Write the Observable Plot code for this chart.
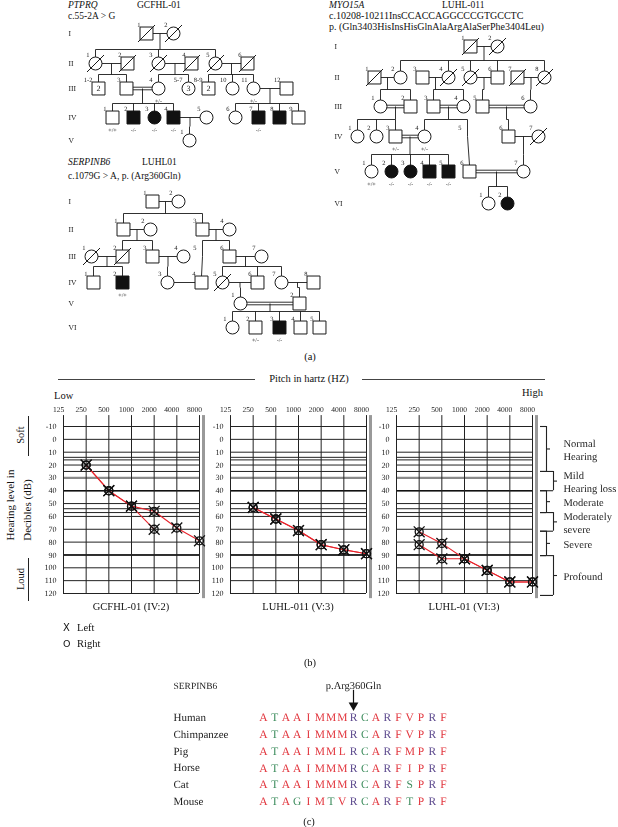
<!DOCTYPE html>
<html><head><meta charset="utf-8">
<script src="https://cdn.jsdelivr.net/npm/d3@7"></script>
<script src="https://cdn.jsdelivr.net/npm/@observablehq/plot@0.6"></script>
<style>
body{margin:0;background:#fff;}
#fig{position:relative;width:618px;height:827px;overflow:hidden;background:#fff;font-family:"Liberation Serif","DejaVu Serif",serif;color:#111;-webkit-font-smoothing:antialiased;}
#fig svg{will-change:transform;text-rendering:geometricPrecision;-webkit-font-smoothing:antialiased;}
</style></head><body><div id="fig"></div>
<script>
// ---------------- DATA ----------------
// Pedigree GCFHL-01 (PTPRQ): [id, generation, layout x, sex, affected, deceased, count, genotype]
const ped1Rows = {I:33, II:63, III:88, IV:117, V:140};
const ped1People = [
  ["I-1","I",146,"m",0,1],["I-2","I",173,"f",0,1],
  ["II-1","II",95,"f",0,1],["II-2","II",127,"m",0,1],["II-3","II",158,"f",0,1],
  ["II-4","II",191,"m",0,1],["II-5","II",215,"f",0,1],["II-6","II",247,"m",0,1],
  ["III-1-2","III",98,"m",0,0,"2"],["III-3","III",126,"m"],["III-4","III",158,"f",0,0,"","+/-"],
  ["III-5-7","III",188,"f",0,0,"3"],["III-8-9","III",208,"m",0,0,"2"],["III-10","III",232,"f"],
  ["III-11","III",253,"f",0,0,"","+/-"],["III-12","III",286,"m"],
  ["IV-1","IV",112,"m",0,0,"","+/+"],["IV-2","IV",133,"m",1,0,"","-/-"],["IV-3","IV",154,"f",1,0,"","-/-"],
  ["IV-4","IV",173,"m",1,0,"","-/-"],["IV-5","IV",206,"f"],["IV-6","IV",235,"f"],
  ["IV-7","IV",258,"m",1,0,"","-/-"],["IV-8","IV",279,"m",1],["IV-9","IV",298,"m"],
  ["V-1","V",189,"f"]
];
const ped1Couples = [["I-1","I-2"],["II-1","II-2"],["II-3","II-4"],["II-5","II-6"],["III-3","III-4",1],["III-11","III-12"],["IV-4","IV-5"]];
const ped1Sibs = [
  [["I-1","I-2"],["II-1","II-3","II-5"]],[["II-1","II-2"],["III-1-2","III-3"]],[["II-3","II-4"],["III-4","III-5-7"]],
  [["II-5","II-6"],["III-8-9","III-10","III-11"]],[["III-3","III-4"],["IV-1","IV-2","IV-3","IV-4"]],
  [["III-11","III-12"],["IV-6","IV-7","IV-8","IV-9"]],[["IV-4","IV-5"],["V-1"]]
];

// Pedigree LUHL-011 (MYO15A)
const ped2Rows = {I:46, II:77, III:106, IV:136, V:171, VI:203};
const ped2People = [
  ["I-1","I",470,"m",0,1],["I-2","I",497,"f",0,1],
  ["II-1","II",374,"m",0,1],["II-2","II",400,"f"],["II-3","II",422,"m"],["II-4","II",448,"f",0,1],
  ["II-5","II",470,"f",0,1],["II-6","II",497,"m"],["II-7","II",517,"m",0,1],["II-8","II",544,"f",0,1],
  ["III-1","III",380,"f"],["III-2","III",410,"m"],["III-3","III",433,"m"],["III-4","III",463,"f"],
  ["III-5","III",482,"m"],["III-6","III",530,"f"],
  ["IV-1","IV",357,"f"],["IV-2","IV",376,"f"],["IV-3","IV",395,"m",0,0,"","+/-"],["IV-4","IV",424,"f",0,0,"","+/-"],
  ["IV-5","IV",467,"n"],["IV-6","IV",508,"m"],["IV-7","IV",538,"f",0,1],
  ["V-1","V",371,"f",0,0,"","+/+"],["V-2","V",391,"f",1,0,"","-/-"],["V-3","V",410,"f",1,0,"","-/-"],
  ["V-4","V",429,"m",1,0,"","-/-"],["V-5","V",448,"m",1,0,"","-/-"],["V-6","V",469,"m"],["V-7","V",523,"f"],
  ["VI-1","VI",488,"f"],["VI-2","VI",507,"f",1]
];
const ped2Couples = [["I-1","I-2"],["II-1","II-2"],["II-3","II-4"],["II-5","II-6"],["II-7","II-8"],
  ["III-1","III-2",1],["III-3","III-4",1],["III-5","III-6",1],["IV-3","IV-4",1],["IV-6","IV-7"],["V-6","V-7",1]];
const ped2Sibs = [
  [["I-1","I-2"],["II-2","II-4","II-5","II-6","II-8"]],[["II-1","II-2"],["III-1","III-2"]],[["II-3","II-4"],["III-3","III-4"]],
  [["II-5","II-6"],["III-5"]],[["II-7","II-8"],["III-6"]],[["III-1","III-2"],["IV-1","IV-2","IV-3"]],
  [["III-3","III-4"],["IV-4","IV-5"]],[["III-5","III-6"],["IV-6"]],[["IV-6","IV-7"],["V-7"]],
  [["IV-3","IV-4"],["V-1","V-2","V-3","V-4","V-5"]],[["V-6","V-7"],["VI-1","VI-2"]]
];
const ped2Links = [["IV-5","V-6"]];

// Pedigree LUHL01 (SERPINB6)
const ped3Rows = {I:201, II:229, III:256, IV:282, V:303, VI:327};
const ped3People = [
  ["I-1","I",152,"m"],["I-2","I",178,"f"],
  ["II-1","II",123,"m"],["II-2","II",150,"f"],["II-3","II",202,"m"],["II-4","II",229,"f"],
  ["III-1","III",91,"f",0,1],["III-2","III",122,"m",0,1],["III-3","III",152,"m"],["III-4","III",183,"f"],
  ["III-5","III",202,"n"],["III-6","III",229,"m"],["III-7","III",261,"f"],
  ["IV-1","IV",93,"m"],["IV-2","IV",122,"m",1,0,"","+/+"],["IV-3","IV",167,"f"],["IV-4","IV",201,"m"],
  ["IV-5","IV",222,"f",0,1],["IV-6","IV",257,"m"],["IV-7","IV",281,"f"],["IV-8","IV",313,"m"],
  ["V-1","V",240,"f"],["V-2","V",299,"m"],
  ["VI-1","VI",232,"f"],["VI-2","VI",255,"m",0,0,"","+/-"],["VI-3","VI",279,"m",1,0,"","-/-"],
  ["VI-4","VI",300,"m"],["VI-5","VI",319,"m"]
];
const ped3Couples = [["I-1","I-2"],["II-1","II-2"],["II-3","II-4"],["III-1","III-2"],["III-3","III-4"],["III-6","III-7"],
  ["IV-3","IV-4"],["IV-5","IV-6"],["IV-7","IV-8"],["V-1","V-2",1]];
const ped3Sibs = [
  [["I-1","I-2"],["II-1","II-3"]],[["II-1","II-2"],["III-2","III-3"]],[["II-3","II-4"],["III-5","III-6"]],
  [["III-1","III-2"],["IV-1","IV-2"]],[["III-3","III-4"],["IV-3"]],[["III-6","III-7"],["IV-5","IV-6","IV-7"]],
  [["IV-5","IV-6"],["V-1"]],[["IV-7","IV-8"],["V-2"]],[["V-1","V-2"],["VI-1","VI-2","VI-3","VI-4","VI-5"]]
];
const ped3Links = [["III-5","IV-4"]];

// Audiograms (dB HL)
const freqTicks = [125, 250, 500, 1000, 2000, 4000, 8000];
const audioFreqs = [250, 500, 1000, 2000, 4000, 8000];
const dbTicks = [-10, 0, 10, 20, 30, 40, 50, 60, 70, 80, 90, 100, 110, 120];
const dbExtraLines = [14, 16, 25, 54, 57];
const gcfhlLeft = [20, 40, 52, 56, 69, 79];
const gcfhlRight = [20, 40, 52, 70];
const luhl011Left = [53, 62, 71, 82, 86, 89];
const luhl011Right = [53, 62, 71, 82, 86, 89];
const luhl01Left = [72, 81, 93, 102, 111, 111];
const luhl01Right = [82, 93, 93, 102, 111, 111];
const severityNames = ["Normal\nHearing", "Mild\nHearing loss", "Moderate", "Moderately\nsevere", "Severe", "Profound"];
const severityFrom = [-10, 25, 40, 57, 71.5, 90.5];
const severityTo = [25, 40, 57, 71.5, 90.5, 121.5];

// Alignment
const species = ["Human", "Chimpanzee", "Pig", "Horse", "Cat", "Mouse"];
const sequences = ["ATAAIMMMRCARFVPRF", "ATAAIMMMRCARFVPRF", "ATAAIMMLRCARFMPRF", "ATAAIMMMRCARFIPRF", "ATAAIMMMRCARFSPRF", "ATAGIMTVRCARFTPRF"];
const mutationIndex = 8;
const aaClassOf = {A:"hydrophobic",I:"hydrophobic",M:"hydrophobic",L:"hydrophobic",V:"hydrophobic",F:"hydrophobic",P:"hydrophobic",T:"polar",S:"polar",C:"polar",G:"polar",R:"basic"};

// ---------------- DRAWING ----------------
const F = '"Liberation Serif","DejaVu Serif",serif';
const fig = document.getElementById("fig");
function place(node, left, top) {
  node.style.position = "absolute"; node.style.left = left + "px"; node.style.top = top + "px";
  fig.appendChild(node);
}
function txt(s, x, y, o = {}) {
  const d = document.createElement("div");
  d.textContent = s;
  const ax = o.anchor === "middle" ? "-50%" : o.anchor === "end" ? "-100%" : "0";
  d.style.cssText = `position:absolute;left:${x}px;top:${y}px;white-space:nowrap;line-height:1;font-size:${o.size || 10.5}px;font-family:${o.family || F};${o.italic ? "font-style:italic;" : ""}color:${o.color || "#111"};transform:translate(${ax},-50%)${o.rotate ? ` rotate(${o.rotate}deg)` : ""};`;
  fig.appendChild(d);
}
function box(x, y, w, h, c = "#333") {
  const d = document.createElement("div");
  d.style.cssText = `position:absolute;left:${x}px;top:${y}px;width:${w}px;height:${h}px;background:${c};`;
  fig.appendChild(d);
}
const baseStyle = {fontFamily: F, fontSize: "8px", background: "transparent", overflow: "visible", color: "#111"};

function pedigree(people, rows, couples, sibs, links, genX, [x0, y0, w, h], gap) {
  const P = new Map(people.map(([id, gen, x, sex, aff = 0, dec = 0, n = "", geno = ""]) =>
    [id, {id, gen, x, y: rows[gen], sex, aff, dec, n, geno, label: id.slice(id.indexOf("-") + 1)}]));
  const ppl = [...P.values()];
  const segs = [];
  for (const [a, b, dbl] of couples) {
    const A = P.get(a), B = P.get(b);
    if (dbl) {
      segs.push({x1: A.x, y1: A.y - 1.3, x2: B.x, y2: B.y - 1.3}, {x1: A.x, y1: A.y + 1.3, x2: B.x, y2: B.y + 1.3});
    } else segs.push({x1: A.x, y1: A.y, x2: B.x, y2: B.y});
  }
  for (const [[a, b], c] of sibs) {
    const A = P.get(a), B = P.get(b);
    const mx = (A.x + B.x) / 2, py = A.y;
    const kids = c.map(k => P.get(k));
    const sy = kids[0].y - gap;
    const xs = kids.map(k => k.x);
    const lo = Math.min(mx, ...xs), hi = Math.max(mx, ...xs);
    segs.push({x1: mx, y1: py, x2: mx, y2: sy});
    if (hi - lo > 1) segs.push({x1: lo, y1: sy, x2: hi, y2: sy});
    for (const k of kids) segs.push({x1: k.x, y1: sy, x2: k.x, y2: k.sex === "n" ? k.y : k.y - 6});
  }
  for (const [a, b] of links) {
    const A = P.get(a), B = P.get(b);
    segs.push({x1: A.x, y1: A.y, x2: B.x, y2: B.y - 6.5});
  }
  const sq = ppl.filter(d => d.sex === "m"), ci = ppl.filter(d => d.sex === "f");
  const plot = Plot.plot({
    width: w, height: h, margin: 0,
    x: {domain: [x0, x0 + w], range: [0, w], axis: null},
    y: {domain: [y0, y0 + h], range: [0, h], axis: null},
    style: baseStyle,
    marks: [
      Plot.link(segs, {x1: "x1", y1: "y1", x2: "x2", y2: "y2", stroke: "#1a1a1a", strokeWidth: 0.9}),
      Plot.dot(sq.filter(d => !d.aff), {x: "x", y: "y", symbol: "square", r: 7.3, fill: "#fff", stroke: "#1a1a1a", strokeWidth: 1}),
      Plot.dot(sq.filter(d => d.aff), {x: "x", y: "y", symbol: "square", r: 7.3, fill: "#111", stroke: "#111", strokeWidth: 1}),
      Plot.dot(ci.filter(d => !d.aff), {x: "x", y: "y", r: 6.5, fill: "#fff", stroke: "#1a1a1a", strokeWidth: 1}),
      Plot.dot(ci.filter(d => d.aff), {x: "x", y: "y", r: 6.5, fill: "#111", stroke: "#111", strokeWidth: 1}),
      Plot.link(ppl.filter(d => d.dec), {x1: d => d.x - 8.5, y1: d => d.y + 8.5, x2: d => d.x + 8.5, y2: d => d.y - 8.5, stroke: "#1a1a1a", strokeWidth: 1}),
      Plot.text(ppl, {x: "x", y: "y", text: "label", dx: -6, dy: -9, textAnchor: "end", fontSize: 6.5, fill: "#222"}),
      Plot.text(ppl.filter(d => d.n), {x: "x", y: "y", text: "n", fontSize: 8, fill: "#111"}),
      Plot.text(ppl.filter(d => d.geno), {x: "x", y: "y", text: "geno", dy: 12.5, fontSize: 6, fill: "#333"}),
      Plot.text(Object.entries(rows), {x: () => genX, y: d => d[1], text: d => d[0], textAnchor: "start", fontSize: 7.5, fill: "#222"})
    ]
  });
  place(plot, x0, y0);
}

// Panel (a)
txt("PTPRQ", 68, 6, {italic: true, size: 9.5});
txt("GCFHL-01", 137, 6, {size: 9.5});
txt("c.55-2A > G", 68, 17, {size: 9.5});
pedigree(ped1People, ped1Rows, ped1Couples, ped1Sibs, [], 68, [60, 0, 250, 150], 14);

txt("MYO15A", 329, 6, {italic: true, size: 9.5});
txt("LUHL-011", 442, 6, {size: 9.5});
txt("c.10208-10211InsCCACCAGGCCCGTGCCTC", 329, 16, {size: 10});
txt("p. (Gln3403HisInsHisGlnAlaArgAlaSerPhe3404Leu)", 329, 27, {size: 10});
pedigree(ped2People, ped2Rows, ped2Couples, ped2Sibs, ped2Links, 334, [325, 0, 293, 215], 17);

txt("SERPINB6", 68, 163, {italic: true, size: 9.5});
txt("LUHL01", 142, 163, {size: 9.5});
txt("c.1079G > A, p. (Arg360Gln)", 68, 177, {size: 9.5});
pedigree(ped3People, ped3Rows, ped3Couples, ped3Sibs, ped3Links, 68, [60, 150, 275, 200], 16);

txt("(a)", 310, 357, {anchor: "middle", size: 10.5});

// Panel (b)
txt("Pitch in hartz (HZ)", 309, 379, {anchor: "middle", size: 10.5});
box(58, 379, 197, 1, "#444");
box(362, 379, 183, 1, "#444");
txt("Low", 54, 396, {size: 10.5});
txt("High", 543, 393, {anchor: "end", size: 10.5});
txt("Hearing level in", 10, 505, {anchor: "middle", rotate: -90, size: 11});
txt("Decibles (dB)", 27, 510, {anchor: "middle", rotate: -90, size: 11});
txt("Soft", 21, 435, {anchor: "middle", rotate: -90, size: 10.5});
box(28, 416, 1.2, 40, "#222");
txt("Loud", 21, 579, {anchor: "middle", rotate: -90, size: 10.5});
box(28, 558, 1.2, 43, "#222");

function audiogram(frameLeft, series) {
  const ml = 30, mr = 12, mt = 31, mb = 10, fw = 136;
  const pts = series.flatMap(s => s.db.map((v, i) => ({f: audioFreqs[i], db: v, ear: s.ear})));
  const plot = Plot.plot({
    width: ml + fw + mr, height: mt + 167 + mb,
    marginLeft: ml, marginRight: mr, marginTop: mt, marginBottom: mb,
    x: {type: "log", base: 2, domain: [125, 8000], axis: null},
    y: {domain: [-10, 120], reverse: true, axis: null},
    style: baseStyle,
    marks: [
      Plot.ruleY(dbTicks.concat(dbExtraLines), {x1: () => 125, x2: () => 8000, stroke: "#222", strokeWidth: 1}),
      Plot.ruleY([30], {x1: () => 125, x2: () => 8000, stroke: "#8a8a8a", strokeWidth: 2.4}),
      Plot.ruleY([40, 90], {x1: () => 125, x2: () => 8000, stroke: "#111", strokeWidth: 1.6}),
      Plot.ruleX(freqTicks, {y1: () => -18.5, y2: () => 120, stroke: "#222", strokeWidth: 1}),
      Plot.ruleX([8000], {y1: () => -18.5, y2: () => 124, dx: 4, stroke: "#999", strokeWidth: 3}),
      Plot.line(pts, {x: "f", y: "db", z: "ear", stroke: "#e8242c", strokeWidth: 1.1}),
      Plot.dot(pts, {x: "f", y: "db", r: 4, stroke: "#111", strokeWidth: 1.3, fill: "none"}),
      Plot.dot(pts, {x: "f", y: "db", symbol: "times", r: 5, stroke: "#111", strokeWidth: 1.3}),
      Plot.axisX({anchor: "top", ticks: freqTicks, tickSize: 0, tickPadding: 15, tickFormat: d => String(d), label: null, dx: -5, fontSize: 7.5, fill: "#222"}),
      Plot.axisY({ticks: dbTicks, tickSize: 0, tickPadding: 7, tickFormat: d => String(d), label: null, fontSize: 8, fill: "#222"})
    ]
  });
  place(plot, frameLeft - ml, 395);
}
audiogram(63, [{ear: "Left", db: gcfhlLeft}, {ear: "Right", db: gcfhlRight}]);
audiogram(230, [{ear: "Left", db: luhl011Left}, {ear: "Right", db: luhl011Right}]);
audiogram(396, [{ear: "Left", db: luhl01Left}, {ear: "Right", db: luhl01Right}]);

// severity brackets
{
  const cats = severityNames.map((name, i) => ({name, y1: severityFrom[i], y2: severityTo[i], s: i % 2 ? 17 : 10}));
  const caps = cats.flatMap(d => [{y: d.y1, s: d.s}, {y: d.y2, s: d.s}]);
  const plot = Plot.plot({
    width: 82, height: 208, marginLeft: 0, marginRight: 0, marginTop: 31, marginBottom: 10,
    x: {domain: [0, 82], range: [0, 82], axis: null},
    y: {domain: [-10, 120], reverse: true, axis: null},
    style: baseStyle,
    marks: [
      Plot.ruleX(cats, {x: "s", y1: "y1", y2: "y2", stroke: "#222", strokeWidth: 1.1}),
      Plot.ruleY(caps, {y: "y", x1: () => 4, x2: "s", stroke: "#222", strokeWidth: 1.1}),
      Plot.ruleY(cats, {y: d => (d.y1 + d.y2) / 2, x1: "s", x2: d => d.s + 4, stroke: "#222", strokeWidth: 1.1}),
      Plot.text(cats, {x: () => 27, y: d => (d.y1 + d.y2) / 2, text: "name", textAnchor: "start", lineHeight: 1.25, fontSize: 10.5, fill: "#222"})
    ]
  });
  place(plot, 536, 395);
}

txt("GCFHL-01 (IV:2)", 131, 607, {anchor: "middle", size: 10.5});
txt("LUHL-011 (V:3)", 298, 607, {anchor: "middle", size: 10.5});
txt("LUHL-01 (VI:3)", 464, 607, {anchor: "middle", size: 10.5});
txt("X", 63, 628, {family: '"DejaVu Sans",sans-serif', size: 10});
txt("Left", 77, 628, {size: 10.5});
txt("O", 63, 644, {family: '"DejaVu Sans",sans-serif', size: 9.5});
txt("Right", 77, 644, {size: 10.5});
txt("(b)", 310, 663, {anchor: "middle", size: 10.5});

// Panel (c)
{
  const residues = sequences.flatMap((s, i) => [...s].map((aa, j) => ({i, j, aa, cls: aaClassOf[aa]})));
  const plot = Plot.plot({
    width: 320, height: 157, marginLeft: 23, marginRight: 0, marginTop: 0, marginBottom: 0,
    x: {domain: [0, 16], range: [113, 293], axis: null},
    y: {domain: [0, 5], range: [47, 131], axis: null},
    color: {domain: ["hydrophobic", "polar", "basic"], range: ["#e2363e", "#3c8c5c", "#5d4a8e"]},
    style: baseStyle,
    marks: [
      Plot.text(species, {y: (d, i) => i, text: d => d, frameAnchor: "left", textAnchor: "start", fontSize: 11, fill: "#222"}),
      Plot.text(residues, {x: "j", y: "i", text: "aa", fill: "cls", fontSize: 11.5}),
      Plot.text(["SERPINB6"], {y: () => -1.9, text: d => d, frameAnchor: "left", textAnchor: "start", fontSize: 9.5, fill: "#222"}),
      Plot.text(["p.Arg360Gln"], {x: () => mutationIndex, y: () => -1.9, text: d => d, fontSize: 10.5, fill: "#222"}),
      Plot.ruleX([mutationIndex], {y1: () => -1.62, y2: () => -0.78, stroke: "#111", strokeWidth: 1.2}),
      Plot.dot([mutationIndex], {x: d => d, y: () => -0.72, symbol: "triangle", rotate: 180, r: 3.6, fill: "#111"})
    ]
  });
  place(plot, 150, 670);
}
txt("(c)", 309, 822, {anchor: "middle", size: 10.5});
</script></body></html>
